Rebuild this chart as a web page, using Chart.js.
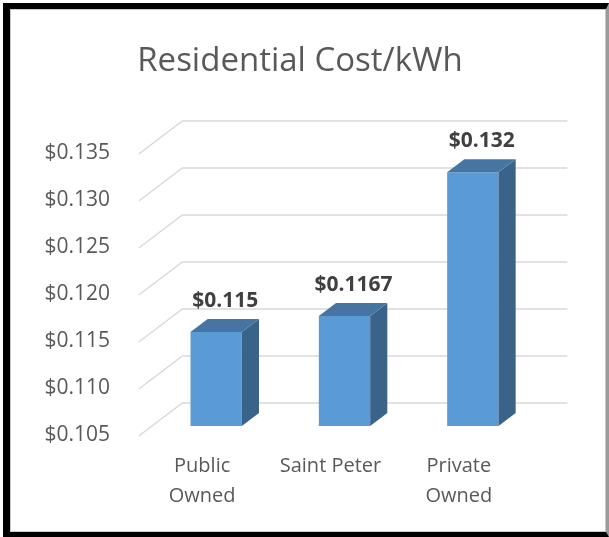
<!DOCTYPE html>
<html lang="en">
<head>
    <meta charset="UTF-8">
    <title>Residential Cost/kWh</title>
    <script src="https://cdn.jsdelivr.net/npm/chart.js"></script>
    <style>
        body {
            margin: 0;
            background: #fff;
        }
        .wrap {
            position: relative;
            width: 609px;
            height: 537px;
            overflow: hidden;
        }
        canvas {
            position: absolute;
            left: 0;
            top: 0;
        }
        .frame {
            position: absolute;
            left: 3px;
            top: 3px;
            width: 596px;
            height: 523px;
            border-left: 7px solid #000;
            border-top: 6px solid #000;
            border-bottom: 5px solid #000;
            border-right: 3px solid #9a9a9a;
            pointer-events: none;
        }
        .frame .inner {
            position: absolute;
            left: 0;
            top: 0;
            right: 0;
            bottom: 0;
            border: 1px solid #c8c8c8;
        }
    </style>
</head>
<body>
    <div class="wrap">
        <canvas id="costChart" width="609" height="537"></canvas>
        <div class="frame"><div class="inner"></div></div>
    </div>

    <script>
        // chart data
        const categories = [['Public', 'Owned'], 'Saint Peter', ['Private', 'Owned']];
        const costPerKwh = [0.115, 0.1167, 0.132];
        const yTicks = [0.105, 0.110, 0.115, 0.120, 0.125, 0.130, 0.135];

        const FRONT = '#5b9bd5';
        const SIDE = '#3a6389';
        const TOP = '#4675a3';
        const GRID = '#d9d9d9';
        const TEXT = '#595959';

        // oblique projection: one unit of depth moves right 1.32 and up 1
        const SLOPE = 1.32;
        const BAR_DEPTH = 13;
        const WALL_DEPTH = 23;
        const SIDE_FRONT = -10;

        const threeD = {
            id: 'threeD',
            beforeDatasetsDraw(chart) {
                const ctx = chart.ctx;
                const area = chart.chartArea;
                const y = chart.scales.y;
                ctx.save();
                ctx.strokeStyle = GRID;
                ctx.lineWidth = 1.5;
                y.ticks.forEach(t => {
                    const py = y.getPixelForValue(t.value);
                    const bx = area.left + WALL_DEPTH * SLOPE;
                    const by = py - WALL_DEPTH;
                    ctx.beginPath();
                    ctx.moveTo(area.left + SIDE_FRONT * SLOPE, py - SIDE_FRONT);
                    ctx.lineTo(bx, by);
                    ctx.lineTo(area.right + WALL_DEPTH * SLOPE, by);
                    ctx.stroke();
                });
                ctx.restore();
            },
            afterDatasetsDraw(chart) {
                const ctx = chart.ctx;
                const area = chart.chartArea;
                const dx = BAR_DEPTH * SLOPE;
                const dy = BAR_DEPTH;
                ctx.save();
                chart.getDatasetMeta(0).data.forEach((bar, i) => {
                    const p = bar.getProps(['x', 'y', 'base', 'width'], true);
                    const l = p.x - p.width / 2;
                    const r = p.x + p.width / 2;
                    const base = Math.min(p.base, area.bottom);
                    // side face
                    ctx.fillStyle = SIDE;
                    ctx.beginPath();
                    ctx.moveTo(r, p.y);
                    ctx.lineTo(r + dx, p.y - dy);
                    ctx.lineTo(r + dx, base - dy);
                    ctx.lineTo(r, base);
                    ctx.closePath();
                    ctx.fill();
                    // top face
                    ctx.fillStyle = TOP;
                    ctx.beginPath();
                    ctx.moveTo(l, p.y);
                    ctx.lineTo(r, p.y);
                    ctx.lineTo(r + dx, p.y - dy);
                    ctx.lineTo(l + dx, p.y - dy);
                    ctx.closePath();
                    ctx.fill();
                    // value label
                    ctx.fillStyle = '#404040';
                    ctx.font = 'bold 21px "Open Sans"';
                    ctx.textAlign = 'center';
                    ctx.textBaseline = 'middle';
                    ctx.fillText('$' + costPerKwh[i], p.x + 9, p.y - dy - 18);
                });
                ctx.restore();
            }
        };

        new Chart(document.getElementById('costChart'), {
            type: 'bar',
            data: {
                labels: categories,
                datasets: [{
                    data: costPerKwh,
                    backgroundColor: FRONT,
                    barPercentage: 0.4,
                    categoryPercentage: 1.0
                }]
            },
            options: {
                responsive: false,
                animation: false,
                layout: {
                    padding: { left: 0, right: 9, top: 18, bottom: 26 }
                },
                plugins: {
                    legend: { display: false },
                    tooltip: { enabled: false },
                    title: {
                        display: true,
                        text: 'Residential Cost/kWh',
                        color: TEXT,
                        font: { family: 'Open Sans', size: 33, weight: 'normal', lineHeight: 1.2 },
                        padding: { top: 24, bottom: 62.4 }
                    }
                },
                scales: {
                    x: {
                        grid: { display: false, drawTicks: false },
                        border: { display: false },
                        ticks: {
                            color: TEXT,
                            font: { family: 'Open Sans', size: 20, lineHeight: 1.5 },
                            padding: 25,
                            labelOffset: -14,
                            maxRotation: 0
                        },
                        afterFit: s => { s.height = 85; }
                    },
                    y: {
                        min: yTicks[0],
                        max: yTicks[yTicks.length - 1],
                        grid: { display: false, drawTicks: false },
                        border: { display: false },
                        afterBuildTicks: s => { s.ticks = yTicks.map(v => ({ value: v })); },
                        ticks: {
                            color: TEXT,
                            font: { family: 'Open Sans', size: 21 },
                            padding: 42,
                            labelOffset: 9,
                            callback: v => '$' + v.toFixed(3)
                        },
                        afterFit: s => { s.width = 152; }
                    },
                    y2: {
                        position: 'right',
                        grid: { display: false, drawTicks: false },
                        border: { display: false },
                        ticks: { display: false },
                        afterFit: s => { s.width = 63; }
                    }
                }
            },
            plugins: [threeD]
        });
    </script>
</body>
</html>
